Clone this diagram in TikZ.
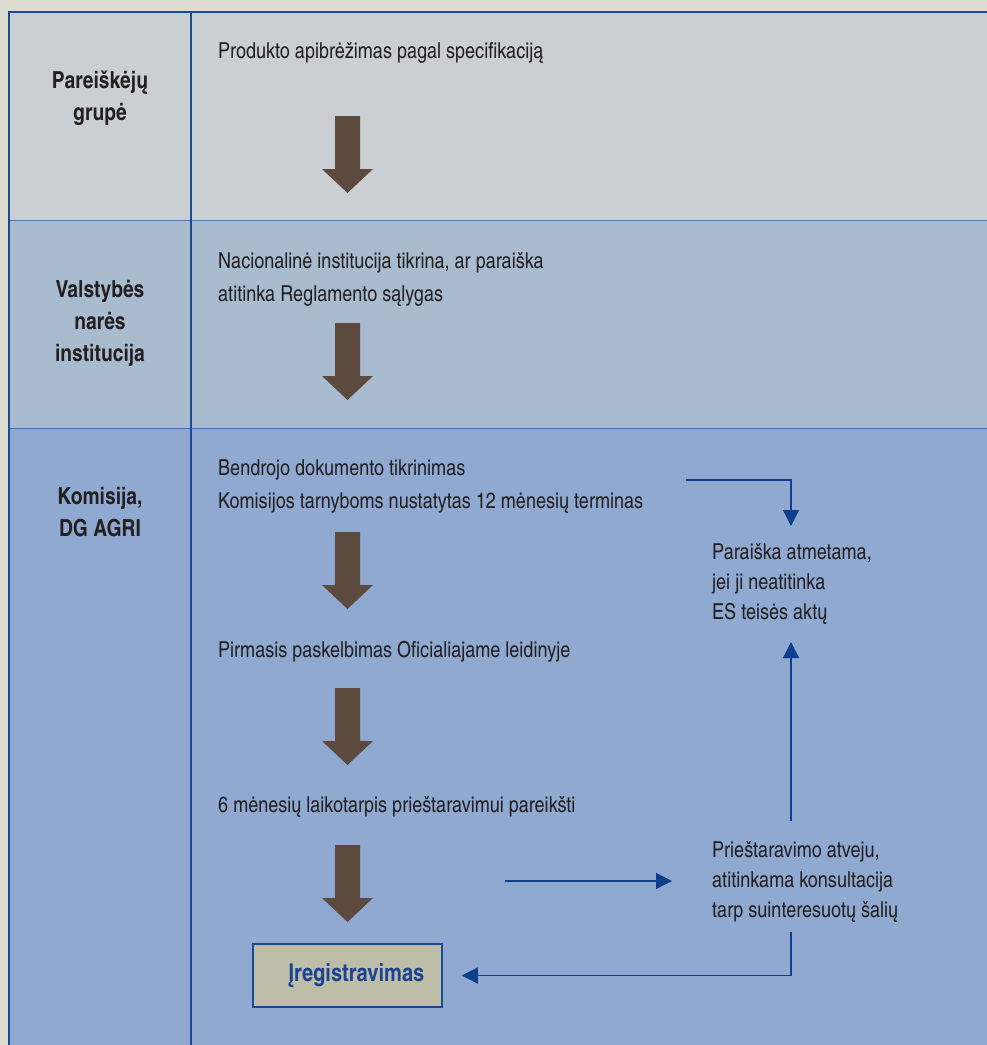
\documentclass[tikz,border=0pt]{standalone}
\usepackage{fontspec}
\setmainfont{texgyreheroscn-regular.otf}[BoldFont=texgyreheroscn-bold.otf]
\usetikzlibrary{arrows.meta}
\definecolor{bgout}{HTML}{DCDCD0}
\definecolor{rowa}{HTML}{C9CFD3}
\definecolor{rowb}{HTML}{A9BCCF}
\definecolor{rowc}{HTML}{8FA9D1}
\definecolor{framec}{HTML}{1A4A94}
\definecolor{arrowc}{HTML}{5C4A3F}
\definecolor{txt}{HTML}{231F20}
\definecolor{regfill}{HTML}{BDBDA8}
\definecolor{regtxt}{HTML}{1A4492}
\definecolor{connc}{HTML}{0D3F8A}
\tikzset{
  bigarrow/.pic={\fill[arrowc] (-12.5,0) -- (12.5,0) -- (12.5,53) -- (25.5,53) -- (0,77) -- (-25.5,53) -- (-12.5,53) -- cycle;},
  body/.style={inner sep=0pt, anchor=base west, align=left, text=txt, font=\fontsize{22}{32.5}\selectfont},
  rbody/.style={body, font=\fontsize{22}{30}\selectfont},
  lab/.style={inner sep=0pt, anchor=base, align=center, text=txt, font=\fontsize{23.5}{32}\selectfont\bfseries},
  conn/.style={draw=connc, line width=1.3pt, -{Triangle[length=16pt,width=16pt]}},
}
\begin{document}
\begin{tikzpicture}[x=1pt,y=-1pt]
\useasboundingbox (0,0) rectangle (987,1045);
\fill[bgout] (0,0) rectangle (987,1045);
\fill[rowa] (9,12) rectangle (987,220);
\fill[rowb] (9,220) rectangle (987,428);
\fill[rowc] (9,428) rectangle (987,1045);
\draw[framec!60!rowb, line width=1pt] (9,220) -- (987,220);
\draw[framec!60!rowc, line width=1pt] (9,428) -- (987,428);
\draw[framec, line width=1.5pt] (9,1045) -- (9,12) -- (987,12);
\draw[framec, line width=1.5pt] (191,12) -- (191,1045);

% left labels (anchor = baseline of last line)
\node[lab] (l1) at (100,120) {Pareiškėjų\\grupė};
\node[lab] (l2) at (100,361) {Valstybės\\narės\\institucija};
\node[lab] (l3) at (100,536) {Komisija,\\DG AGRI};

% body texts (anchor = baseline of last line)
\node[body] (t1) at (218,58) {Produkto apibrėžimas pagal specifikaciją};
\node[body] (t2) at (218,301) {Nacionalinė institucija tikrina, ar paraiška\\atitinka Reglamento sąlygas};
\node[body] (t3) at (218,508) {Bendrojo dokumento tikrinimas\\Komisijos tarnyboms nustatytas 12 mėnesių terminas};
\node[body] (t4) at (218,657) {Pirmasis paskelbimas Oficialiajame leidinyje};
\node[body] (t5) at (218,812) {6 mėnesių laikotarpis prieštaravimui pareikšti};

\node[rbody] (atm) at (712,619) {Paraiška atmetama,\\jei ji neatitinka\\ES teisės aktų};
\node[rbody] (prie) at (712,917) {Prieštaravimo atveju,\\atitinkama konsultacija\\tarp suinteresuotų šalių};

\node[draw=framec, line width=1.5pt, fill=regfill, minimum width=189pt, minimum height=63pt, inner sep=0pt,
      text=regtxt, font=\fontsize{24.5}{26}\selectfont\bfseries] (reg) at (347.5,975.5) {\hspace*{18pt}Įregistravimas};

% big arrows
\pic at (347.5,116) {bigarrow};
\pic at (347.5,323) {bigarrow};
\pic at (347.5,532) {bigarrow};
\pic at (347.5,688) {bigarrow};
\pic at (347.5,845) {bigarrow};

% connectors
\coordinate (c1) at (686,480);
\coordinate (c1e) at (791,526);
\coordinate (c2s) at (791,821);
\coordinate (c2e) at (791,642);
\coordinate (c3s) at (505,881);
\coordinate (c3e) at (672,881);
\coordinate (c4s) at (791,932);
\draw[conn] (c1) -| (c1e);
\draw[conn] (c2s) -- (c2e);
\draw[conn] (c3s) -- (c3e);
\draw[conn] (c4s) |- ([xshift=19pt]reg.east);
\end{tikzpicture}
\end{document}
